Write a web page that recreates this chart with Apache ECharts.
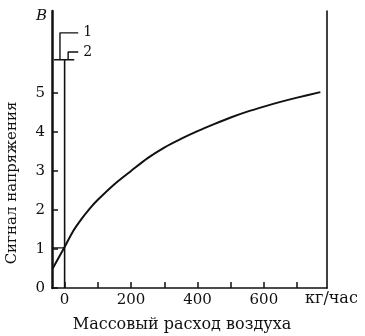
<!DOCTYPE html>
<html><head><meta charset="utf-8">
<script src="https://cdn.jsdelivr.net/npm/echarts@6/dist/echarts.min.js"></script>
<style>html,body{margin:0;padding:0;background:#fff}#c{width:365px;height:336px}</style>
</head><body><div id="c"></div>
<script>
const massFlow = [-36, 0, 25, 50, 75, 100, 150, 200, 250, 300, 350, 400, 450, 500, 550, 600, 650, 700, 770];
const voltage  = [0.5, 1.05, 1.45, 1.76, 2.03, 2.26, 2.66, 3.0, 3.33, 3.6, 3.82, 4.02, 4.2, 4.37, 4.52, 4.65, 4.77, 4.88, 5.02];
const xTicks = [0, 100, 200, 300, 400, 500, 600, 700];
const xLabels = [0, 200, 400, 600];
const yTicks = [0, 1, 2, 3, 4, 5];
const zeroLine = [[0, 0], [0, 5.85]];
const topBar = [[-32, 5.85], [29, 5.85]];
const bracket1 = [[-14, 5.85], [-14, 6.54], [41, 6.54]];
const bracket2 = [[10.6, 5.85], [10.6, 6.05], [41, 6.05]];
const oneMark = [[-38, 1.03], [0, 1.03]];

const font = 'DejaVu Serif';
const ink = '#111';
const chart = echarts.init(document.getElementById('c'), null, {renderer: 'canvas'});
function seg(data, w, label) {
  return {
    type: 'line', data: data, symbol: 'none', silent: true,
    lineStyle: {color: ink, width: w},
    endLabel: label ? {show: true, formatter: label, color: ink, fontFamily: font, fontSize: 14, distance: 5} : undefined,
    animation: false
  };
}
chart.setOption({
  animation: false,
  grid: {left: 52, right: 38, top: 11, bottom: 48},
  xAxis: {
    type: 'value', min: -38, max: 790,
    axisLine: {show: true, onZero: false, lineStyle: {color: ink, width: 1.6}},
    axisTick: {show: true, inside: true, length: 6, customValues: xTicks, lineStyle: {color: ink, width: 1.5}},
    axisLabel: {customValues: xLabels, color: ink, fontFamily: font, fontSize: 15, margin: 5},
    splitLine: {show: false}
  },
  yAxis: [{
    type: 'value', min: 0, max: 7.1,
    axisLine: {show: true, onZero: false, lineStyle: {color: ink, width: 2.5}},
    axisTick: {show: true, inside: true, length: 6, customValues: yTicks, lineStyle: {color: ink, width: 1.5}},
    axisLabel: {customValues: yTicks, color: ink, fontFamily: font, fontSize: 15, margin: 7},
    splitLine: {show: false}
  }, {
    type: 'value', min: 0, max: 7.1, position: 'right',
    axisLine: {show: true, onZero: false, lineStyle: {color: ink, width: 1.6}},
    axisTick: {show: false}, axisLabel: {show: false}, splitLine: {show: false}
  }],
  graphic: [
    {type: 'text', left: 36, top: 9, style: {text: 'В', font: 'italic 15px "DejaVu Serif"', fill: ink}},
    {type: 'text', x: 12, y: 183, rotation: Math.PI / 2, style: {text: 'Сигнал напряжения', font: '15px "DejaVu Serif"', fill: ink, align: 'center', verticalAlign: 'middle'}},
    {type: 'text', x: 182, y: 325, style: {text: 'Массовый расход воздуха', font: '16px "DejaVu Serif"', fill: ink, align: 'center', verticalAlign: 'middle'}},
    {type: 'text', x: 305, y: 299, style: {text: 'кг/час', font: '16px "DejaVu Serif"', fill: ink, align: 'left', verticalAlign: 'middle'}}
  ],
  series: [
    {
      type: 'line', data: massFlow.map((m, i) => [m, voltage[i]]), smooth: 0.3, symbol: 'none',
      lineStyle: {color: ink, width: 2}, silent: true
    },
    seg(zeroLine, 1.6),
    seg(topBar, 1.6),
    seg(bracket1, 1.4, '1'),
    seg(bracket2, 1.4, '2'),
    seg(oneMark, 1.2)
  ]
});
</script></body></html>
